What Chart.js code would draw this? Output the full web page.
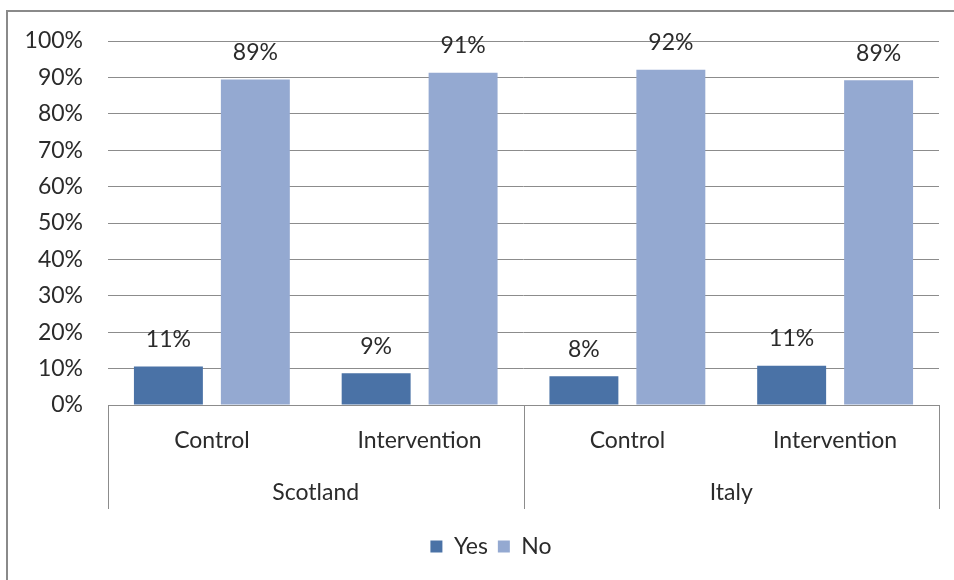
<!DOCTYPE html>
<html>
<head>
<meta charset="utf-8">
<script src="https://cdn.jsdelivr.net/npm/chart.js@4.4.0/dist/chart.umd.min.js"></script>
<style>
  html, body { margin: 0; padding: 0; background: #fff; }
</style>
</head>
<body>
<canvas id="chart" width="954" height="580"></canvas>
<script>
// chart data
const categories = ['Control', 'Intervention', 'Control', 'Intervention'];
const groups = ['Scotland', 'Italy'];
const yesValues = [10.6, 8.7, 7.9, 10.8];
const noValues = [89.4, 91.3, 92.1, 89.2];
const yTicks = [0, 10, 20, 30, 40, 50, 60, 70, 80, 90, 100];

const FONT = 'Lato';
const FONT_SIZE = 23;
const TEXT = '#2b2b2b';
const GRID = '#8c8c8c';

// white background + outer frame
const framePlugin = {
  id: 'frame',
  afterLayout(chart) {
    // legend sits a bit right of centre in the original
    if (chart.legend) chart.legend.left += 43;
  },
  beforeDraw(chart) {
    const ctx = chart.ctx;
    ctx.save();
    ctx.fillStyle = '#fff';
    ctx.fillRect(0, 0, chart.width, chart.height);
    ctx.strokeStyle = '#8a8a8a';
    ctx.lineWidth = 2;
    ctx.strokeRect(7, 11, chart.width + 20, chart.height + 20);
    ctx.restore();
  }
};

// value labels above bars
const valueLabels = {
  id: 'valueLabels',
  afterDatasetsDraw(chart) {
    const ctx = chart.ctx;
    ctx.save();
    ctx.font = FONT_SIZE + 'px ' + FONT;
    ctx.fillStyle = TEXT;
    ctx.textAlign = 'center';
    ctx.textBaseline = 'middle';
    chart.data.datasets.forEach((ds, i) => {
      chart.getDatasetMeta(i).data.forEach((bar, j) => {
        ctx.fillText(Math.round(ds.data[j]) + '%', bar.x, bar.y - 27);
      });
    });
    ctx.restore();
  }
};

// second level of the category axis (country groups + separators)
const groupAxis = {
  id: 'groupAxis',
  afterDraw(chart) {
    const ctx = chart.ctx;
    const x = chart.scales.x;
    const top = chart.chartArea.bottom;
    const bottom = top + 104;
    const per = categories.length / groups.length;
    ctx.save();
    ctx.strokeStyle = GRID;
    ctx.lineWidth = 1;
    const edges = [];
    for (let g = 0; g <= groups.length; g++) {
      let px;
      if (g === 0) px = x.left;
      else if (g === groups.length) px = x.right;
      else px = (x.getPixelForValue(g * per - 1) + x.getPixelForValue(g * per)) / 2;
      edges.push(px);
      ctx.beginPath();
      ctx.moveTo(Math.round(px) + 0.5, top);
      ctx.lineTo(Math.round(px) + 0.5, bottom);
      ctx.stroke();
    }
    ctx.font = FONT_SIZE + 'px ' + FONT;
    ctx.fillStyle = TEXT;
    ctx.textAlign = 'center';
    ctx.textBaseline = 'middle';
    groups.forEach((g, i) => {
      ctx.fillText(g, (edges[i] + edges[i + 1]) / 2, top + 88);
    });
    ctx.restore();
  }
};

new Chart(document.getElementById('chart'), {
  type: 'bar',
  data: {
    labels: categories,
    datasets: [
      {
        label: 'Yes',
        data: yesValues,
        backgroundColor: '#4a72a6',
        categoryPercentage: 0.837,
        barPercentage: 0.793
      },
      {
        label: 'No',
        data: noValues,
        backgroundColor: '#94a9d1',
        categoryPercentage: 0.837,
        barPercentage: 0.793
      }
    ]
  },
  options: {
    responsive: false,
    animation: false,
    layout: { padding: { left: 0, right: 15, top: 41, bottom: 12 } },
    plugins: {
      tooltip: { enabled: false },
      legend: {
        position: 'bottom',
        labels: {
          color: TEXT,
          font: { family: FONT, size: FONT_SIZE },
          boxWidth: 12,
          boxHeight: 12,
          padding: 10
        }
      }
    },
    scales: {
      x: {
        grid: { display: false },
        border: { display: true, color: GRID, width: 1 },
        ticks: { color: TEXT, font: { family: FONT, size: FONT_SIZE }, padding: 14 },
        afterFit(scale) { scale.height = 120; }
      },
      y: {
        min: 0,
        max: 100,
        afterBuildTicks(scale) { scale.ticks = yTicks.map(v => ({ value: v })); },
        grid: { color: GRID, drawTicks: false },
        border: { display: false },
        ticks: {
          color: TEXT,
          font: { family: FONT, size: FONT_SIZE },
          padding: 25,
          callback: v => v + '%'
        },
        afterFit(scale) { scale.width = 108; }
      }
    }
  },
  plugins: [framePlugin, valueLabels, groupAxis]
});
</script>
</body>
</html>
